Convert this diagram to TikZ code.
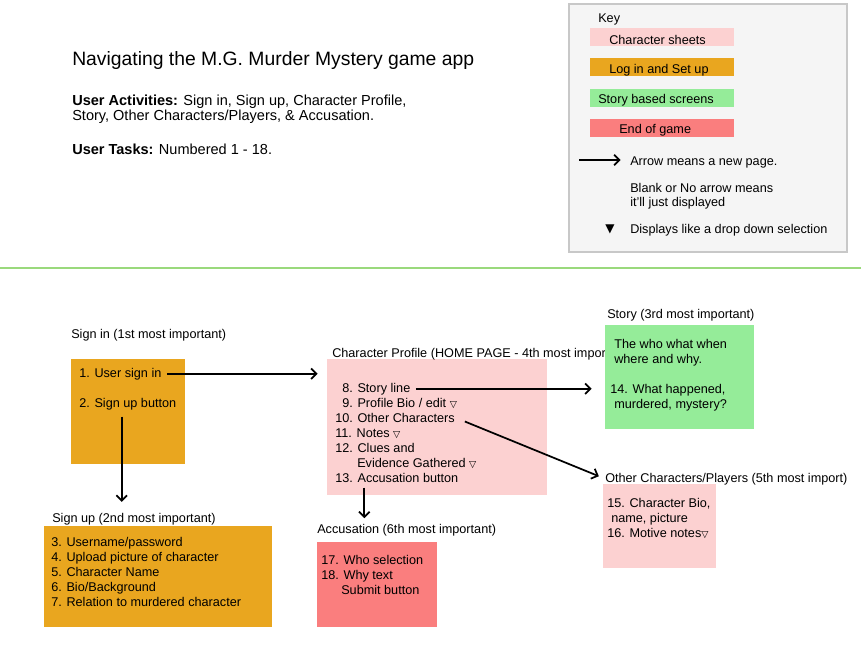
\documentclass[tikz,border=0pt]{standalone}
\usepackage{fontspec}
\setmainfont{Liberation Sans}
\newfontfamily\symfont{DejaVu Sans}
\usetikzlibrary{arrows.meta,positioning}
\definecolor{sheetpink}{HTML}{FCD1D1}
\definecolor{loginorange}{HTML}{E9A61F}
\definecolor{storygreen}{HTML}{95EC99}
\definecolor{endred}{HTML}{FA7E7E}
\definecolor{keygray}{HTML}{F5F5F5}
\definecolor{keyedge}{HTML}{C8C8C8}
\definecolor{splitgreen}{HTML}{9AD97C}
\newcommand{\dropdown}{\raisebox{-0.5pt}{\symfont\fontsize{7}{7}\selectfont ▽}}

\begin{document}
\begin{tikzpicture}[x=0.75pt,y=-0.75pt,
    txt/.style={anchor=base west,inner sep=0pt,font=\fontsize{9.5}{11}\selectfont},
    intro/.style={anchor=base west,inner sep=0pt,font=\fontsize{10.9}{13}\selectfont},
    title/.style={anchor=base west,inner sep=0pt,font=\fontsize{14.5}{17}\selectfont},
    link/.style={line width=1.3pt,-{Straight Barb[length=4pt,width=8pt]}}]
  \useasboundingbox (0,0) rectangle (861,644);

  % heading
  \node[title] (heading) at (72,65) {Navigating the M.G. Murder Mystery game app};
  \node[intro] (activities) at (72,105) {\textbf{User Activities:} Sign in, Sign up, Character Profile,};
  \node[intro] (activities2) at (72,120) {Story, Other Characters/Players, \& Accusation.};
  \node[intro] (tasks) at (72,154) {\textbf{User Tasks:} Numbered 1 - 18.};

  % key
  \draw[draw=keyedge,fill=keygray,line width=1.5pt] (569,4) rectangle (847,252);
  \node[txt] (keytitle) at (598,22) {Key};
  \fill[sheetpink]   (590,28)  rectangle (734,46);
  \fill[loginorange] (590,58)  rectangle (734,76);
  \fill[storygreen]  (590,89)  rectangle (734,107);
  \fill[endred]      (590,119) rectangle (734,137);
  \node[txt] (keysheet) at (609,44)  {Character sheets};
  \node[txt] (keylogin) at (609,73)  {Log in and Set up};
  \node[txt] (keystory) at (598,103) {Story based screens};
  \node[txt] (keyend)   at (619,133) {End of game};
  \node[txt] (keyarrow) at (630,165) {Arrow means a new page.};
  \node[txt] (keyblank) at (630,192) {Blank or No arrow means};
  \node[txt] (keyblank2) at (630,206) {it'll just displayed};
  \node[txt] (keydrop) at (630,233) {Displays like a drop down selection};
  \node[inner sep=0pt,font=\symfont\fontsize{9}{9}\selectfont] (keytri) at (610,229) {▼};
  \coordinate (keyarrowstart) at (579,160);
  \draw[link] (keyarrowstart) -- (keyarrowstart -| keyarrow.west) [shorten >=7pt];

  \draw[splitgreen,line width=1.2pt] (0,268) -- (861,268);

  % sign in
  \fill[loginorange] (71,359) rectangle (185,464);
  \node[txt] (signinlabel) at (71,338) {Sign in (1st most important)};
  \node[txt] (usersignin) at (79,377) {1. User sign in};
  \node[txt] (signupbtn) at (79,407) {2. Sign up button};

  % sign up
  \fill[loginorange] (44,526) rectangle (272,627);
  \node[txt] (signuplabel) at (52,522) {Sign up (2nd most important)};
  \node[txt] (task3) at (51,546) {3. Username/password};
  \node[txt] (task4) at (51,561) {4. Upload picture of character};
  \node[txt] (task5) at (51,576) {5. Character Name};
  \node[txt] (task6) at (51,591) {6. Bio/Background};
  \node[txt] (task7) at (51,606) {7. Relation to murdered character};

  % character profile
  \fill[sheetpink] (327,359) coordinate (proftl) rectangle (547,495);
  \node[txt] (proflabel) at (332,357) {Character Profile (HOME PAGE - 4th most impor};
  \node[txt] (storyline) at (342,392) {8. Story line};
  \node[txt] (profbio) at (342,407) {9. Profile Bio / edit \dropdown};
  \node[txt] (othchar) at (335,422) {10. Other Characters};
  \node[txt] (notes) at (335,437) {11. Notes \dropdown};
  \node[txt] (clues) at (335,452) {12. Clues and};
  \node[txt] (clues2) at (357,467) {Evidence Gathered \dropdown};
  \node[txt] (accbtn) at (335,482) {13. Accusation button};

  % story
  \fill[storygreen] (605,325) coordinate (storytl) rectangle (754,429);
  \node[txt] (storylabel) at (607,318) {Story (3rd most important)};
  \node[txt] (story1) at (614,348) {The who what when};
  \node[txt] (story2) at (614,363) {where and why.};
  \node[txt] (story3) at (610,393) {14. What happened,};
  \node[txt] (story4) at (614,408) {murdered, mystery?};

  % other characters
  \fill[sheetpink] (603,484) rectangle (716,568);
  \node[txt] (otherlabel) at (605,482) {Other Characters/Players (5th most import)};
  \node[txt] (other1) at (607,507) {15. Character Bio,};
  \node[txt] (other2) at (611,522) {name, picture};
  \node[txt] (other3) at (607,537) {16. Motive notes\dropdown};

  % accusation
  \fill[endred] (317,542) rectangle (437,627);
  \node[txt] (acclabel) at (317,533) {Accusation (6th most important)};
  \node[txt] (acc1) at (321,564) {17. Who selection};
  \node[txt] (acc2) at (321,579) {18. Why text};
  \node[txt] (acc3) at (341,594) {Submit button};

  % page links
  \draw[link,shorten <=4pt,shorten >=7pt] (usersignin.east) -- (usersignin.east -| proftl);
  \draw[link,shorten <=5pt,shorten >=8pt] ([xshift=-4.5pt]signupbtn.south) -- ([xshift=-4.5pt]signupbtn.south |- signuplabel.north);
  \draw[link,shorten <=4pt,shorten >=10pt] (storyline.east) -- (storyline.east -| storytl);
  \draw[link,shorten <=8pt,shorten >=5pt] (othchar.east) -- (otherlabel.west);
  \draw[link,shorten <=4pt,shorten >=4pt] ([xshift=22pt]accbtn.south west) -- ([xshift=22pt]accbtn.south west |- acclabel.north);
\end{tikzpicture}
\end{document}
